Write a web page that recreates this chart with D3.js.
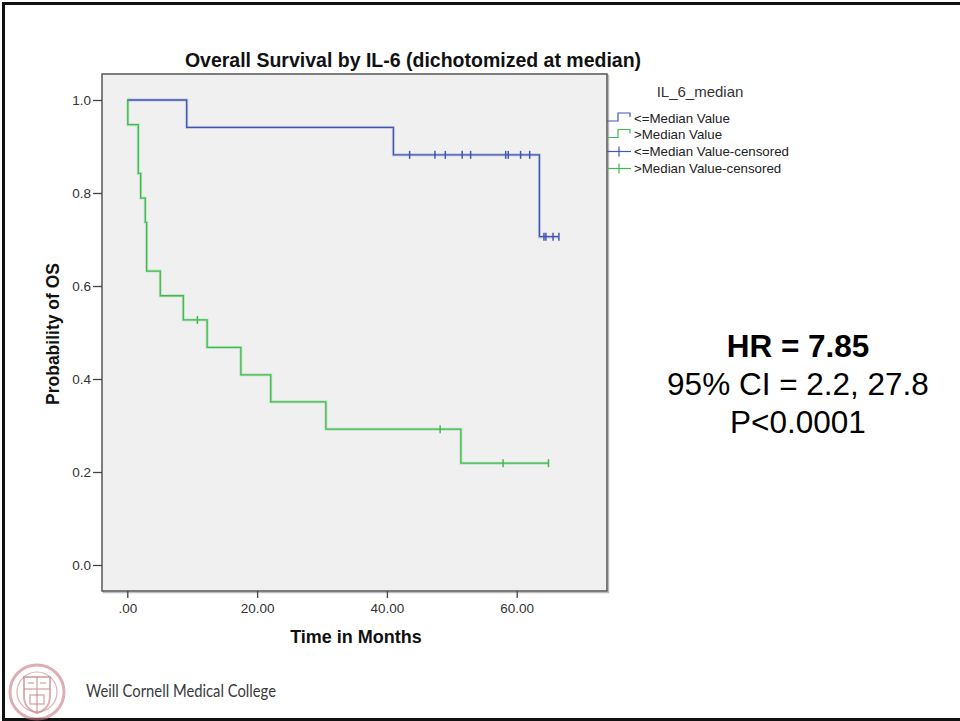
<!DOCTYPE html>
<html>
<head>
<meta charset="utf-8">
<script src="https://cdn.jsdelivr.net/npm/d3@7"></script>
<style>
  body { margin: 0; background: #fff; }
  svg { display: block; }
  text { font-family: "Liberation Sans", Arial, sans-serif; }
</style>
</head>
<body>
<div id="chart"></div>
<script>
// survival steps: [months, probability]
var lowSteps = [[0, 1.0], [9.15, 0.941], [41.0, 0.882], [63.5, 0.706]];
var lowEnd = 66.5;
var lowCensored = [43.5, 47.4, 49.0, 51.6, 52.9, 58.3, 58.7, 60.6, 62.0, 64.2, 64.5, 65.6, 66.5];

var highSteps = [[0, 1.0], [0.08, 0.947], [1.69, 0.842], [2.06, 0.789], [2.77, 0.737],
  [2.98, 0.632], [5.08, 0.579], [8.63, 0.527], [12.3, 0.468], [17.5, 0.409],
  [22.1, 0.351], [30.6, 0.292], [51.4, 0.219]];
var highEnd = 64.9;
var highCensored = [10.8, 48.2, 57.9, 64.9];

var xTicks = [0, 20, 40, 60];
var xTickLabels = [".00", "20.00", "40.00", "60.00"];
var yTicks = [0, 0.2, 0.4, 0.6, 0.8, 1.0];

var legendLabels = ["<=Median Value", ">Median Value", "<=Median Value-censored", ">Median Value-censored"];
var statLines = ["HR = 7.85", "95% CI = 2.2, 27.8", "P<0.0001"];

var blue = "#4257b2", green = "#3dbb4c";

var svg = d3.select("#chart").append("svg")
  .attr("width", 960).attr("height", 721);

// slide border (top, left, bottom)
svg.append("path")
  .attr("d", "M960,3.5 H3.5 V719.5 H960")
  .attr("fill", "none").attr("stroke", "#111").attr("stroke-width", 3);

// plot frame
var frame = { l: 102, t: 74, r: 607, b: 591 };
svg.append("rect")
  .attr("x", frame.l + 1.5).attr("y", frame.t + 1.5)
  .attr("width", frame.r - frame.l).attr("height", frame.b - frame.t)
  .attr("fill", "none").attr("stroke", "#bbb").attr("stroke-width", 1.5);
svg.append("rect")
  .attr("x", frame.l).attr("y", frame.t)
  .attr("width", frame.r - frame.l).attr("height", frame.b - frame.t)
  .attr("fill", "#f0f0f0").attr("stroke", "#555").attr("stroke-width", 1.5);

var x = d3.scaleLinear().domain([0, 60]).range([127.3, 516.7]);
var y = d3.scaleLinear().domain([0, 1]).range([565, 100]);

// y axis ticks
var yAxis = svg.append("g").attr("transform", "translate(" + frame.l + ",0)")
  .call(d3.axisLeft(y).tickValues(yTicks).tickFormat(d3.format(".1f")).tickSize(9).tickPadding(2));
yAxis.select(".domain").remove();
yAxis.selectAll("line").attr("stroke", "#444").attr("stroke-width", 1.3);
yAxis.selectAll("text").attr("fill", "#333").style("font-size", "13.5px")
  .style("font-family", "'Liberation Sans', Arial, sans-serif");

// x axis ticks
var xAxis = svg.append("g").attr("transform", "translate(0," + frame.b + ")")
  .call(d3.axisBottom(x).tickValues(xTicks).tickFormat(function(d, i) { return xTickLabels[i]; })
    .tickSize(7).tickPadding(5));
xAxis.select(".domain").remove();
xAxis.selectAll("line").attr("stroke", "#444").attr("stroke-width", 1.3);
xAxis.selectAll("text").attr("fill", "#333").style("font-size", "13.5px")
  .style("font-family", "'Liberation Sans', Arial, sans-serif");

// step lines
function stepPoints(steps, end) {
  var pts = steps.map(function(s) { return [s[0], s[1]]; });
  pts.push([end, steps[steps.length - 1][1]]);
  return pts;
}
function survAt(steps, t) {
  var v = steps[0][1];
  steps.forEach(function(s) { if (s[0] <= t) v = s[1]; });
  return v;
}
var line = d3.line().x(function(d) { return x(d[0]); }).y(function(d) { return y(d[1]); })
  .curve(d3.curveStepAfter);

[[lowSteps, lowEnd, lowCensored, blue], [highSteps, highEnd, highCensored, green]].forEach(function(g) {
  var pts = stepPoints(g[0], g[1]);
  svg.append("path").datum(pts).attr("d", line)
    .attr("fill", "none").attr("stroke", g[3]).attr("stroke-opacity", 0.25).attr("stroke-width", 3);
  svg.append("path").datum(pts).attr("d", line)
    .attr("fill", "none").attr("stroke", g[3]).attr("stroke-width", 1.3);
  svg.selectAll(null).data(g[2]).enter().append("line")
    .attr("x1", function(d) { return x(d); }).attr("x2", function(d) { return x(d); })
    .attr("y1", function(d) { return y(survAt(g[0], d)) - 4; })
    .attr("y2", function(d) { return y(survAt(g[0], d)) + 4; })
    .attr("stroke", g[3]).attr("stroke-width", 1.5);
});

// title and axis labels
svg.append("text").attr("x", 413).attr("y", 67).attr("text-anchor", "middle")
  .style("font-size", "19.5px").style("font-weight", "bold").attr("fill", "#111")
  .text("Overall Survival by IL-6 (dichotomized at median)");
svg.append("text").attr("x", 356).attr("y", 643).attr("text-anchor", "middle")
  .style("font-size", "18px").style("font-weight", "bold").attr("fill", "#111")
  .text("Time in Months");
svg.append("text").attr("transform", "translate(59,334) rotate(-90)").attr("text-anchor", "middle")
  .style("font-size", "17.5px").style("font-weight", "bold").attr("fill", "#111")
  .text("Probability of OS");

// legend
svg.append("text").attr("x", 700).attr("y", 97).attr("text-anchor", "middle")
  .style("font-size", "15px").attr("fill", "#333").text("IL_6_median");
var legRows = [118, 134.5, 151.5, 168.5];
var legColors = [blue, green, blue, green];
legendLabels.forEach(function(lab, i) {
  var ry = legRows[i];
  if (i < 2) {
    svg.append("path")
      .attr("d", "M607," + (ry + 3) + " H618 V" + (ry - 5) + " H630 V" + (ry - 1))
      .attr("fill", "none").attr("stroke", legColors[i]).attr("stroke-width", 1.2);
  } else {
    svg.append("line").attr("x1", 607).attr("x2", 631).attr("y1", ry).attr("y2", ry)
      .attr("stroke", legColors[i]).attr("stroke-width", 1.2);
    svg.append("line").attr("x1", 619).attr("x2", 619).attr("y1", ry - 5).attr("y2", ry + 5)
      .attr("stroke", legColors[i]).attr("stroke-width", 1.2);
  }
  svg.append("text").attr("x", 634).attr("y", ry + 4.5)
    .style("font-size", "13.3px").attr("fill", "#222").text(lab);
});

// stats text
statLines.forEach(function(s, i) {
  svg.append("text").attr("x", 798).attr("y", 357 + i * 38).attr("text-anchor", "middle")
    .style("font-size", "31.5px").style("font-weight", i === 0 ? "bold" : "normal")
    .attr("fill", "#000").text(s);
});

// footer seal
var seal = svg.append("g").attr("transform", "translate(37,692)")
  .attr("fill", "none").attr("stroke", "#c77a82").attr("stroke-opacity", 0.6);
seal.append("circle").attr("r", 27).attr("stroke-width", 3);
seal.append("circle").attr("r", 20).attr("stroke-width", 1.2);
seal.append("path").attr("d", "M-13,-15 H13 V4 Q13,17 0,21 Q-13,17 -13,4 Z").attr("stroke-width", 2);
seal.append("path").attr("d", "M-13,-3 H13 M0,-15 V21 M-9,-9 H-3 M3,-9 H9").attr("stroke-width", 1.5);
seal.append("rect").attr("x", -7).attr("y", 3).attr("width", 14).attr("height", 9).attr("stroke-width", 1.5);

svg.append("text").attr("x", 86).attr("y", 697)
  .style("font-family", "Lato, 'Open Sans', sans-serif").style("font-size", "17px")
  .attr("textLength", 190).attr("lengthAdjust", "spacingAndGlyphs")
  .attr("fill", "#3a3a3a").text("Weill Cornell Medical College");
</script>
</body>
</html>
